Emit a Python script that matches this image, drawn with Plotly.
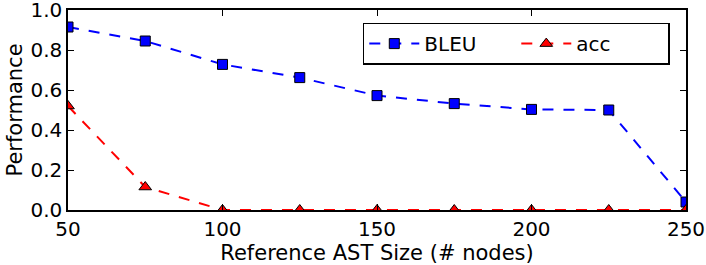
import plotly.graph_objects as go

sizes = [50, 75, 100, 125, 150, 175, 200, 225, 250]
bleu = [0.915, 0.845, 0.728, 0.662, 0.572, 0.532, 0.503, 0.500, 0.040]
acc = [0.52, 0.115, 0.0, 0.0, 0.0, 0.0, 0.0, 0.0, 0.0]
x_ticks = [50, 100, 150, 200, 250]
y_ticks = [0.0, 0.2, 0.4, 0.6, 0.8, 1.0]

font = "DejaVu Sans"

fig = go.Figure()
fig.add_trace(go.Scatter(
    x=sizes, y=bleu, name="BLEU", mode="lines+markers",
    line=dict(color="#0000ff", width=2, dash="11px,10px"),
    marker=dict(symbol="square", size=10, color="#0000ff",
                line=dict(color="black", width=1)),
    cliponaxis=True,
))
fig.add_trace(go.Scatter(
    x=sizes, y=acc, name="acc", mode="lines+markers",
    line=dict(color="#ff0000", width=2, dash="11px,10px"),
    marker=dict(symbol="triangle-up", size=11, color="#ff0000",
                line=dict(color="black", width=1)),
    cliponaxis=True,
))

axis_common = dict(
    showline=True, linecolor="black", linewidth=1.5, mirror="ticks",
    ticks="inside", ticklen=6, tickwidth=1, tickcolor="black",
    showgrid=False, zeroline=False, automargin=False,
    ticklabeloverflow="allow",
    tickfont=dict(family=font, size=20, color="black"),
)

fig.update_xaxes(
    range=[50, 250], tickvals=x_ticks,
    title=dict(text="Reference AST Size (# nodes)",
               font=dict(family=font, size=21, color="black"), standoff=0),
    **axis_common,
)
fig.update_yaxes(
    range=[0, 1], tickvals=y_ticks, tickformat=".1f",
    title=dict(text="Performance",
               font=dict(family=font, size=21, color="black"), standoff=2),
    **axis_common,
)

fig.update_layout(
    width=706, height=265,
    margin=dict(l=68, r=20, t=10, b=55, autoexpand=False),
    plot_bgcolor="white", paper_bgcolor="white",
    font=dict(family=font, size=20, color="black"),
    legend=dict(
        orientation="h", x=0.477, y=0.937, xanchor="left", yanchor="top",
        bgcolor="white", bordercolor="black", borderwidth=1.5,
        font=dict(family=font, size=20, color="black"),
        entrywidth=87, entrywidthmode="pixels", itemwidth=50,
    ),
)

fig.write_html("out.html", config={"displayModeBar": False},
               post_script="document.body.style.margin='0';")
